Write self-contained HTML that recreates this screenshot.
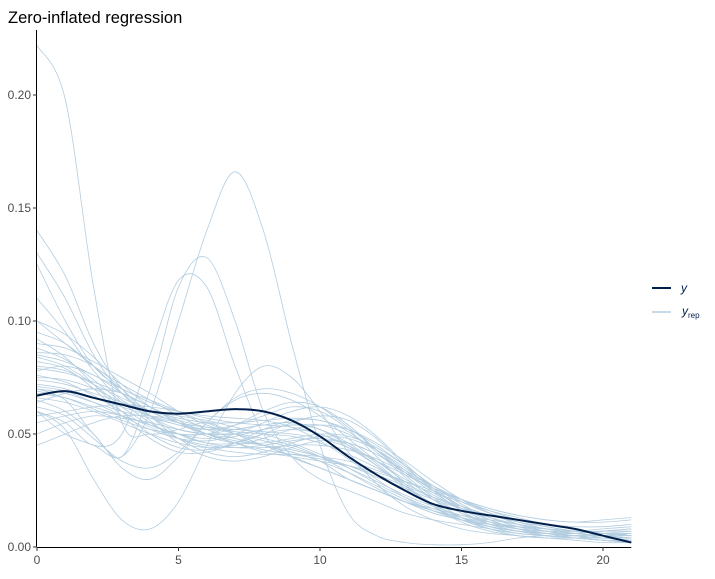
<!DOCTYPE html>
<html><head><meta charset="utf-8"><style>
body{margin:0;background:#fff;font-family:"Liberation Sans",sans-serif}
svg text{font-family:"Liberation Sans",sans-serif}
</style></head><body>
<svg id="chart" width="715" height="574" xmlns="http://www.w3.org/2000/svg">
<text x="8" y="23" font-size="16.5" fill="#000">Zero-inflated regression</text>
<g id="reps"></g>
<g id="obs"></g>
<g id="axes"></g>
<g>
<line x1="652" y1="288" x2="671" y2="288" stroke="#011f4b" stroke-width="2"/>
<text x="681" y="292" font-size="12" font-style="italic" fill="#011f4b">y</text>
<line x1="652" y1="312" x2="671" y2="312" stroke="#b3cde0" stroke-width="1.5"/>
<text x="682" y="315" font-size="12" font-style="italic" fill="#011f4b">y<tspan font-size="8" font-style="normal" dy="3">rep</tspan></text>
</g>
</svg>
<script>
const xGrid=[0,1,2,3,4,5,6,7,8,9,10,11,12,13,14,15,16,17,18,19,20,21];
const yObs=[0.067,0.069,0.066,0.063,0.060,0.059,0.060,0.061,0.060,0.056,0.049,0.040,0.032,0.025,0.019,0.016,0.014,0.012,0.010,0.008,0.005,0.002];
const yRep=[
[0.222,0.198,0.115,0.055,0.050,0.052,0.055,0.050,0.045,0.042,0.038,0.030,0.025,0.020,0.016,0.013,0.011,0.009,0.007,0.005,0.004,0.003],
[0.060,0.050,0.045,0.040,0.060,0.100,0.140,0.166,0.140,0.090,0.045,0.015,0.005,0.002,0.001,0.001,0.002,0.004,0.005,0.004,0.003,0.002],
[0.070,0.065,0.050,0.040,0.070,0.115,0.128,0.100,0.060,0.040,0.030,0.025,0.020,0.015,0.012,0.010,0.008,0.006,0.005,0.004,0.003,0.002],
[0.060,0.055,0.045,0.050,0.085,0.118,0.115,0.080,0.050,0.040,0.035,0.030,0.025,0.020,0.015,0.012,0.009,0.007,0.005,0.004,0.003,0.002],
[0.140,0.120,0.090,0.070,0.060,0.055,0.050,0.048,0.045,0.040,0.035,0.030,0.025,0.020,0.016,0.013,0.010,0.008,0.006,0.005,0.004,0.003],
[0.130,0.110,0.085,0.068,0.058,0.052,0.050,0.050,0.048,0.045,0.040,0.033,0.026,0.020,0.015,0.012,0.010,0.009,0.008,0.007,0.006,0.005],
[0.125,0.100,0.080,0.070,0.065,0.060,0.055,0.050,0.045,0.040,0.035,0.030,0.025,0.020,0.017,0.014,0.012,0.010,0.008,0.006,0.005,0.004],
[0.110,0.095,0.078,0.065,0.060,0.058,0.056,0.053,0.050,0.046,0.041,0.035,0.028,0.022,0.017,0.013,0.010,0.008,0.007,0.006,0.005,0.004],
[0.100,0.090,0.080,0.072,0.065,0.058,0.052,0.048,0.045,0.042,0.038,0.033,0.027,0.021,0.016,0.012,0.009,0.007,0.006,0.005,0.004,0.003],
[0.090,0.088,0.082,0.075,0.068,0.060,0.054,0.050,0.047,0.044,0.040,0.035,0.029,0.023,0.018,0.014,0.011,0.009,0.007,0.006,0.005,0.004],
[0.085,0.082,0.076,0.070,0.064,0.060,0.058,0.057,0.056,0.053,0.047,0.039,0.030,0.022,0.016,0.012,0.010,0.009,0.008,0.007,0.006,0.005],
[0.080,0.078,0.072,0.066,0.060,0.055,0.052,0.052,0.054,0.055,0.052,0.045,0.036,0.027,0.019,0.013,0.009,0.006,0.005,0.004,0.004,0.004],
[0.075,0.074,0.070,0.064,0.058,0.054,0.052,0.054,0.058,0.062,0.060,0.052,0.040,0.028,0.018,0.011,0.007,0.005,0.004,0.004,0.005,0.006],
[0.078,0.080,0.076,0.068,0.058,0.050,0.046,0.046,0.050,0.055,0.058,0.056,0.048,0.036,0.025,0.016,0.010,0.007,0.006,0.006,0.007,0.008],
[0.072,0.070,0.066,0.062,0.058,0.055,0.053,0.052,0.051,0.050,0.048,0.044,0.038,0.032,0.026,0.021,0.017,0.014,0.012,0.011,0.011,0.012],
[0.070,0.068,0.064,0.060,0.057,0.054,0.050,0.046,0.042,0.040,0.038,0.036,0.033,0.029,0.025,0.021,0.017,0.014,0.012,0.011,0.012,0.013],
[0.068,0.066,0.062,0.058,0.054,0.050,0.046,0.044,0.044,0.045,0.045,0.043,0.039,0.033,0.027,0.021,0.016,0.012,0.009,0.007,0.006,0.005],
[0.065,0.060,0.050,0.035,0.030,0.040,0.055,0.065,0.068,0.065,0.058,0.048,0.038,0.029,0.021,0.015,0.011,0.008,0.006,0.005,0.004,0.003],
[0.060,0.052,0.030,0.012,0.008,0.020,0.045,0.068,0.080,0.075,0.060,0.042,0.028,0.018,0.012,0.008,0.006,0.005,0.004,0.003,0.002,0.002],
[0.062,0.058,0.048,0.038,0.035,0.042,0.055,0.066,0.070,0.068,0.062,0.053,0.043,0.033,0.024,0.017,0.012,0.008,0.006,0.004,0.003,0.002],
[0.058,0.060,0.062,0.063,0.062,0.060,0.057,0.055,0.054,0.053,0.050,0.045,0.038,0.030,0.023,0.017,0.013,0.010,0.008,0.007,0.006,0.006],
[0.055,0.058,0.060,0.058,0.054,0.050,0.048,0.050,0.055,0.060,0.062,0.058,0.049,0.037,0.026,0.017,0.011,0.008,0.007,0.007,0.008,0.009],
[0.050,0.055,0.058,0.057,0.055,0.052,0.050,0.050,0.052,0.054,0.054,0.050,0.043,0.034,0.025,0.018,0.013,0.010,0.008,0.007,0.007,0.007],
[0.045,0.050,0.055,0.058,0.058,0.056,0.053,0.051,0.050,0.049,0.046,0.041,0.035,0.028,0.022,0.017,0.013,0.010,0.008,0.006,0.005,0.004],
[0.082,0.079,0.070,0.058,0.048,0.042,0.042,0.046,0.052,0.056,0.056,0.051,0.042,0.031,0.021,0.013,0.008,0.005,0.004,0.004,0.005,0.006],
[0.088,0.083,0.074,0.064,0.055,0.048,0.044,0.042,0.041,0.041,0.040,0.038,0.034,0.029,0.024,0.020,0.016,0.013,0.010,0.008,0.006,0.005],
[0.076,0.073,0.067,0.060,0.053,0.048,0.045,0.044,0.045,0.047,0.048,0.046,0.041,0.034,0.027,0.020,0.015,0.011,0.008,0.006,0.005,0.004],
[0.092,0.084,0.072,0.060,0.050,0.044,0.043,0.046,0.050,0.052,0.050,0.044,0.036,0.027,0.019,0.013,0.009,0.007,0.006,0.006,0.007,0.008],
[0.066,0.064,0.060,0.055,0.050,0.046,0.044,0.045,0.048,0.052,0.054,0.052,0.046,0.038,0.029,0.021,0.015,0.010,0.007,0.005,0.004,0.003],
[0.074,0.072,0.068,0.064,0.060,0.057,0.055,0.055,0.056,0.057,0.056,0.052,0.045,0.036,0.027,0.020,0.015,0.012,0.010,0.009,0.009,0.010],
[0.084,0.080,0.072,0.062,0.054,0.050,0.050,0.054,0.060,0.064,0.062,0.054,0.043,0.032,0.022,0.015,0.010,0.007,0.005,0.004,0.003,0.003],
[0.079,0.077,0.073,0.068,0.062,0.056,0.050,0.046,0.043,0.041,0.039,0.036,0.032,0.027,0.022,0.018,0.014,0.011,0.009,0.007,0.006,0.005],
[0.064,0.068,0.070,0.068,0.062,0.055,0.049,0.046,0.046,0.048,0.050,0.049,0.044,0.036,0.027,0.019,0.013,0.009,0.006,0.005,0.004,0.003],
[0.095,0.090,0.080,0.068,0.056,0.046,0.040,0.038,0.040,0.044,0.047,0.046,0.041,0.033,0.025,0.018,0.012,0.008,0.006,0.005,0.004,0.004],
[0.086,0.085,0.080,0.070,0.058,0.048,0.042,0.040,0.042,0.046,0.049,0.048,0.043,0.035,0.026,0.018,0.012,0.008,0.005,0.004,0.003,0.002],
[0.071,0.069,0.064,0.058,0.052,0.048,0.047,0.049,0.052,0.054,0.052,0.046,0.037,0.027,0.018,0.012,0.008,0.006,0.005,0.005,0.006,0.007],
[0.100,0.094,0.084,0.072,0.062,0.055,0.050,0.047,0.045,0.043,0.040,0.036,0.031,0.026,0.021,0.017,0.014,0.011,0.009,0.007,0.006,0.005],
[0.069,0.066,0.061,0.056,0.052,0.050,0.050,0.052,0.054,0.055,0.052,0.045,0.036,0.026,0.018,0.012,0.008,0.006,0.005,0.005,0.005,0.005]
];
const xTicks=[0,5,10,15,20];
const yTicks=[0,0.05,0.10,0.15,0.20];
const yTickLabels=["0.00","0.05","0.10","0.15","0.20"];

const X0=37,XS=28.3,Y0=547,YS=2260,XMAX=21;
const sx=v=>X0+v*XS, sy=v=>Y0-v*YS;
function pathFor(ys){
  const pts=xGrid.map((x,i)=>[sx(x),Math.min(Y0,sy(Math.max(0,ys[i])))]);
  let d="M"+pts[0][0]+","+pts[0][1];
  for(let i=0;i<pts.length-1;i++){
    const p0=pts[Math.max(0,i-1)],p1=pts[i],p2=pts[i+1],p3=pts[Math.min(pts.length-1,i+2)];
    const c1=[p1[0]+(p2[0]-p0[0])/6,p1[1]+(p2[1]-p0[1])/6];
    const c2=[p2[0]-(p3[0]-p1[0])/6,p2[1]-(p3[1]-p1[1])/6];
    d+=`C${c1[0].toFixed(1)},${Math.min(Y0,c1[1]).toFixed(1)} ${c2[0].toFixed(1)},${Math.min(Y0,c2[1]).toFixed(1)} ${p2[0].toFixed(1)},${p2[1].toFixed(1)}`;
  }
  return d;
}
const NS="http://www.w3.org/2000/svg";
const reps=document.getElementById("reps");
yRep.forEach((r,i)=>{
  const p=document.createElementNS(NS,"path");
  p.setAttribute("d",pathFor(r));
  p.setAttribute("fill","none");p.setAttribute("stroke","#b3cde0");p.setAttribute("stroke-width","0.8");
  
  
  reps.appendChild(p);
});
const obs=document.createElementNS(NS,"path");
obs.setAttribute("d",pathFor(yObs));
obs.setAttribute("fill","none");obs.setAttribute("stroke","#011f4b");obs.setAttribute("stroke-width","2");


document.getElementById("obs").appendChild(obs);

const ax=document.getElementById("axes");
function el(tag,attrs){const e=document.createElementNS(NS,tag);for(const k in attrs)e.setAttribute(k,attrs[k]);ax.appendChild(e);return e;}
const xa=el("line",{x1:X0,y1:Y0+0.5,x2:sx(XMAX),y2:Y0+0.5,stroke:"#000","stroke-width":1});


const ya=el("line",{x1:X0-0.5,y1:30,x2:X0-0.5,y2:Y0+0.5,stroke:"#000","stroke-width":1});


xTicks.forEach(t=>{
  const tk=el("line",{x1:sx(t),y1:Y0,x2:sx(t),y2:Y0+4,stroke:"#333"});
  
  
  const tx=el("text",{x:sx(t),y:Y0+17,"font-size":12,"text-anchor":"middle",fill:"#4d4d4d"});
  tx.textContent=t;
  
  
});
yTicks.forEach((t,i)=>{
  const tk=el("line",{x1:X0-4,y1:sy(t),x2:X0,y2:sy(t),stroke:"#333"});
  
  
  const tx=el("text",{x:X0-6,y:sy(t)+4,"font-size":12,"text-anchor":"end",fill:"#4d4d4d"});
  tx.textContent=yTickLabels[i];
  
  
});
</script>
</body></html>
